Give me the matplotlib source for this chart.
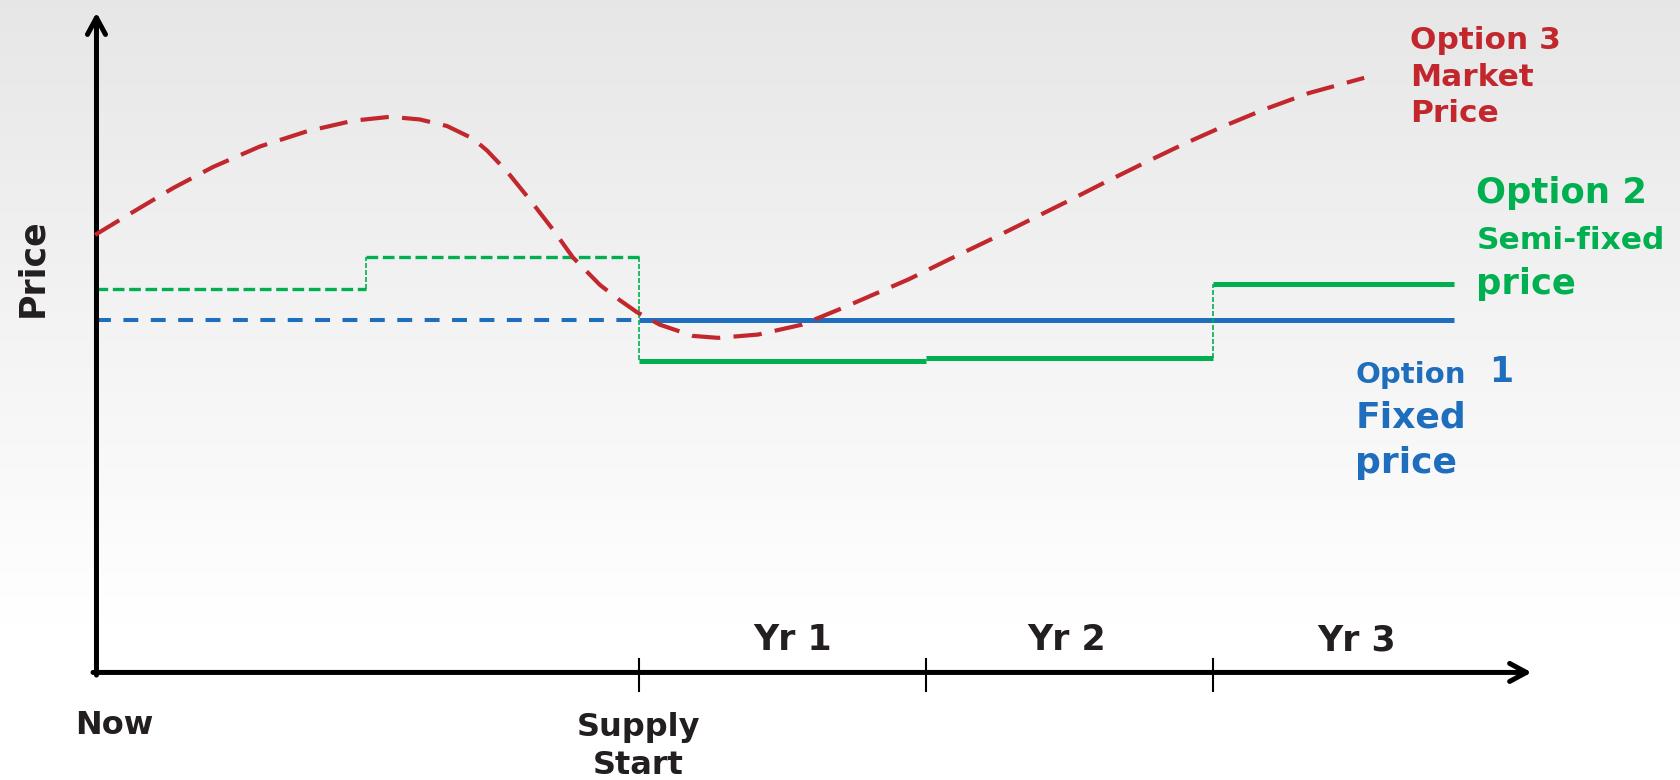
import matplotlib
matplotlib.use("Agg")
import matplotlib.pyplot as plt
import numpy as np

# time axis: 0 = supply start, 1 unit = one year
now = -1.888
year_ticks = [0, 1, 2]
year_labels = ["Yr 1", "Yr 2", "Yr 3"]
year_label_x = [0.537, 1.49, 2.50]
end_x = 2.84
arrow_x = 3.11

# option 1: fixed price
fixed_price = 53.4

# option 2: semi-fixed (steps)
semi_pre_x = [now, -0.95, -0.95, 0.0]
semi_pre_y = [58.1, 58.1, 63.0, 63.0]
semi_x = [0.0, 1.0, 1.0, 2.0]
semi_y = [47.2, 47.2, 47.6, 47.6]
semi_last_x = [2.0, end_x]
semi_last_y = [58.9, 58.9]

# option 3: market price
market_x = [-1.893, -1.760, -1.621, -1.482, -1.319, -1.155, -0.995, -0.866,
            -0.762, -0.667, -0.577, -0.528, -0.458, -0.378, -0.298, -0.229,
            -0.134, -0.065, -0.006, 0.074, 0.189, 0.277, 0.416, 0.569, 0.709,
            0.942, 1.082, 1.221, 1.360, 1.499, 1.621, 1.761, 1.900, 2.039,
            2.178, 2.335, 2.527]
market_y = [66.3, 69.8, 73.4, 76.6, 79.7, 82.0, 83.6, 84.2, 83.8, 82.8, 80.9,
            79.1, 75.9, 71.6, 67.1, 62.9, 58.7, 56.4, 54.6, 52.7, 51.0, 50.7,
            51.2, 52.7, 55.2, 59.6, 62.6, 65.5, 68.5, 71.5, 74.2, 77.2, 80.1,
            82.8, 85.3, 87.8, 90.1]

RED = "#c1272d"
GREEN = "#00b050"
BLUE = "#1f6dbd"
DARK = "#231f20"

fig = plt.figure(figsize=(16.8, 7.8), dpi=100)

# light grey gradient background
bg = fig.add_axes([0, 0, 1, 1], zorder=0)
grad = np.clip(np.linspace(0, 1, 256) * 1.25, 0, 1)
top = np.array([0.905, 0.905, 0.905])
img = top[None, None, :] + (1 - top)[None, None, :] * grad[:, None, None]
bg.imshow(img, aspect="auto", extent=[0, 1, 0, 1])
bg.axis("off")

ax = fig.add_axes([0, 0, 1, 1], zorder=1)
ax.patch.set_alpha(0)
ax.axis("off")
ax.set_xlim(-2.224, 3.627)
ax.set_ylim(-16.3, 101.9)

# axes arrows
head = "->,head_length=1.2,head_width=0.65"
ax.annotate("", xy=(now, 100), xytext=(now, -0.4),
            arrowprops=dict(arrowstyle=head, lw=3.6, color="black",
                            shrinkA=0, shrinkB=0))
ax.annotate("", xy=(arrow_x, 0), xytext=(now - 0.012, 0),
            arrowprops=dict(arrowstyle=head, lw=3.6, color="black",
                            shrinkA=0, shrinkB=0))
for t in year_ticks:
    ax.plot([t, t], [2.1, -2.8], color="black", lw=1.5)

# option 1
ax.plot([now, 0], [fixed_price, fixed_price], color=BLUE, lw=2.9,
        dashes=(3.7, 3.1))
ax.plot([0, end_x], [fixed_price, fixed_price], color=BLUE, lw=3.6,
        solid_capstyle="butt")

# option 2
thin = dict(color=GREEN, lw=1.2, dashes=(3, 1.2))
ax.plot(semi_pre_x[:2], semi_pre_y[:2], color=GREEN, lw=2.4, dashes=(3.5, 1.4))
ax.plot(semi_pre_x[2:], semi_pre_y[2:], color=GREEN, lw=2.4, dashes=(3.5, 1.4))
ax.plot(semi_pre_x[1:3], semi_pre_y[1:3], **thin)
ax.plot([0, 0], [semi_pre_y[-1], semi_y[0]], **thin)
ax.plot(semi_x[:2], semi_y[:2], color=GREEN, lw=3.6, solid_capstyle="butt")
ax.plot(semi_x[2:], semi_y[2:], color=GREEN, lw=3.6, solid_capstyle="butt")
ax.plot([2, 2], [semi_y[-1], semi_last_y[0]], **thin)
ax.plot(semi_last_x, semi_last_y, color=GREEN, lw=3.6, solid_capstyle="butt")

# option 3
ax.plot(market_x, market_y, color=RED, lw=3.0, dashes=(6.8, 3.2),
        dash_joinstyle="round", zorder=3)

# axis texts
cond = dict(fontweight="bold", color=DARK)
for xl, lab in zip(year_label_x, year_labels):
    ax.text(xl, 4.9, lab, ha="center", va="center", fontsize=25, **cond)
ax.text(-1.825, -8.1, "Now", ha="center", va="center", fontsize=23, **cond)
ax.text(0, -11.2, "Supply\nStart", ha="center", va="center", fontsize=23,
        linespacing=1.3, **cond)
ax.text(-2.112, 61.4, "Price", ha="center", va="center", rotation=90,
        fontsize=25, **cond)

# series labels
for yy, s in zip([95.8, 90.1, 84.7], ["Option 3", "Market", "Price"]):
    ax.text(2.687, yy, s, ha="left", va="center", fontsize=22.5,
            fontweight="bold", color=RED)

ax.text(2.918, 72.6, "Option 2", ha="left", va="center", fontsize=25.5,
        fontweight="bold", color=GREEN)
ax.text(2.918, 65.4, "Semi-fixed", ha="left", va="center", fontsize=22.5,
        fontweight="bold", color=GREEN)
ax.text(2.918, 58.8, "price", ha="left", va="center", fontsize=25.5,
        fontweight="bold", color=GREEN)

ax.text(2.496, 45.1, "Option", ha="left", va="center", fontsize=21,
        fontweight="bold", color=BLUE)
ax.text(2.963, 45.6, "1", ha="left", va="center", fontsize=25,
        fontweight="bold", color=BLUE)
ax.text(2.496, 38.6, "Fixed", ha="left", va="center", fontsize=26,
        fontweight="bold", color=BLUE)
ax.text(2.496, 31.8, "price", ha="left", va="center", fontsize=26,
        fontweight="bold", color=BLUE)

fig.savefig("out.png", dpi=100)
